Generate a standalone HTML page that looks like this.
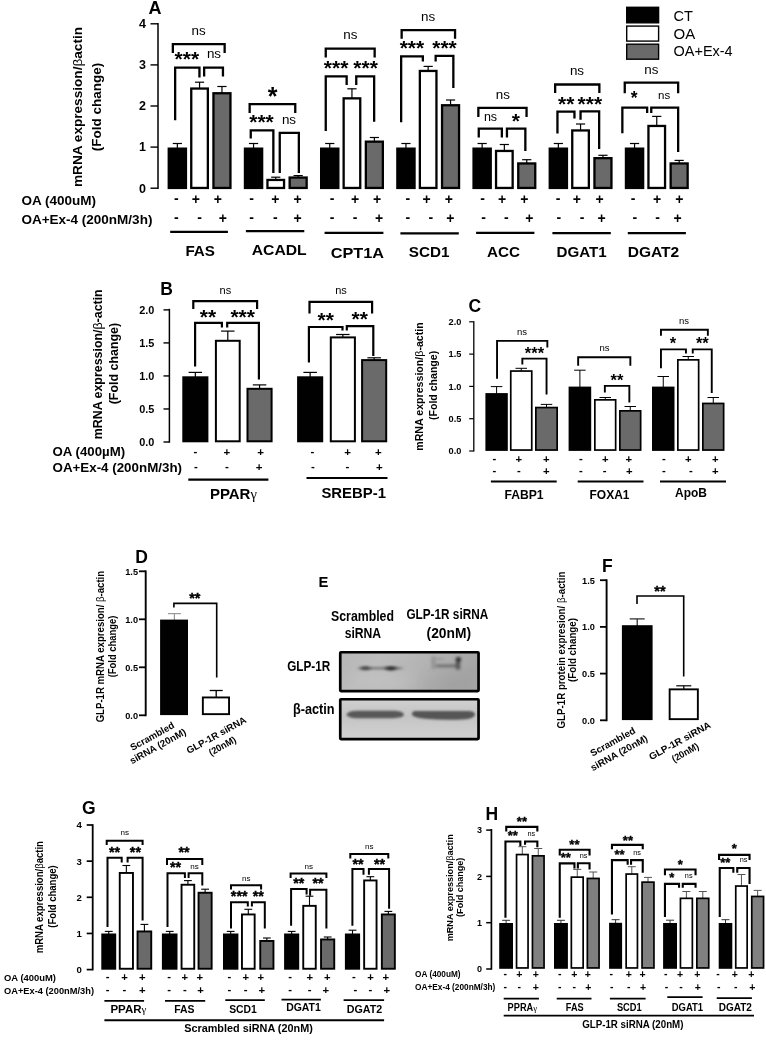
<!DOCTYPE html>
<html><head><meta charset="utf-8"><title>Figure</title>
<style>html,body{margin:0;padding:0;background:#fff}svg{display:block;font-family:"Liberation Sans",sans-serif;font-weight:bold}</style>
</head><body>
<svg width="766" height="1040" viewBox="0 0 766 1040" shape-rendering="geometricPrecision" style="will-change:transform;opacity:0.9999">
<rect width="766" height="1040" fill="#fff"/>
<text x="155" y="13.5" font-size="18" text-anchor="middle" fill="#000" >A</text>
<line x1="158" y1="22.9" x2="158" y2="188.9" stroke="#000" stroke-width="1.5" stroke-linecap="butt"/>
<line x1="150.5" y1="188.2" x2="158" y2="188.2" stroke="#000" stroke-width="1.4" stroke-linecap="butt"/>
<text x="146" y="192.5" font-size="12.5" text-anchor="end" fill="#000" >0</text>
<line x1="150.5" y1="147.1" x2="158" y2="147.1" stroke="#000" stroke-width="1.4" stroke-linecap="butt"/>
<text x="146" y="151.4" font-size="12.5" text-anchor="end" fill="#000" >1</text>
<line x1="150.5" y1="106" x2="158" y2="106" stroke="#000" stroke-width="1.4" stroke-linecap="butt"/>
<text x="146" y="110.3" font-size="12.5" text-anchor="end" fill="#000" >2</text>
<line x1="150.5" y1="64.9" x2="158" y2="64.9" stroke="#000" stroke-width="1.4" stroke-linecap="butt"/>
<text x="146" y="69.2" font-size="12.5" text-anchor="end" fill="#000" >3</text>
<line x1="150.5" y1="23.8" x2="158" y2="23.8" stroke="#000" stroke-width="1.4" stroke-linecap="butt"/>
<text x="146" y="28.1" font-size="12.5" text-anchor="end" fill="#000" >4</text>
<text font-size="13.5" text-anchor="middle" fill="#000" textLength="160" lengthAdjust="spacingAndGlyphs" transform="translate(81.5,107) rotate(-90)" >mRNA expression/<tspan font-weight="normal">β</tspan>actin</text>
<text font-size="13.5" text-anchor="middle" fill="#000" transform="translate(100.8,107) rotate(-90)" >(Fold change)</text>
<text x="21.4" y="204.6" font-size="13" text-anchor="start" fill="#000" textLength="74.6" lengthAdjust="spacingAndGlyphs" >OA (400uM)</text>
<text x="21.4" y="224" font-size="13" text-anchor="start" fill="#000" textLength="131" lengthAdjust="spacingAndGlyphs" >OA+Ex-4 (200nM/3h)</text>
<line x1="177.35" y1="143.5" x2="177.35" y2="148.5" stroke="#000" stroke-width="1.2" stroke-linecap="butt"/>
<line x1="172.75" y1="143.5" x2="181.95" y2="143.5" stroke="#000" stroke-width="1.2" stroke-linecap="butt"/>
<rect x="168.75" y="148.65" width="17.2" height="39.3" fill="#000" stroke="#000" stroke-width="2.3"/>
<text x="176.3" y="203.11" font-size="14" text-anchor="middle" fill="#000" >-</text>
<text x="176.3" y="222.21" font-size="14" text-anchor="middle" fill="#000" >-</text>
<line x1="199.55" y1="82.2" x2="199.55" y2="88.4" stroke="#000" stroke-width="1.2" stroke-linecap="butt"/>
<line x1="194.95" y1="82.2" x2="204.15" y2="82.2" stroke="#000" stroke-width="1.2" stroke-linecap="butt"/>
<rect x="191.25" y="88.55" width="16.6" height="99.4" fill="#fff" stroke="#000" stroke-width="2.3"/>
<text x="195.9" y="204.16" font-size="14" text-anchor="middle" fill="#000" >+</text>
<text x="199.7" y="222.21" font-size="14" text-anchor="middle" fill="#000" >-</text>
<line x1="221.95" y1="86.5" x2="221.95" y2="93.1" stroke="#000" stroke-width="1.2" stroke-linecap="butt"/>
<line x1="217.35" y1="86.5" x2="226.55" y2="86.5" stroke="#000" stroke-width="1.2" stroke-linecap="butt"/>
<rect x="213.45" y="93.25" width="17" height="94.7" fill="#6a6a6a" stroke="#000" stroke-width="2.3"/>
<text x="217.8" y="204.16" font-size="14" text-anchor="middle" fill="#000" >+</text>
<text x="222.8" y="223.26" font-size="14" text-anchor="middle" fill="#000" >+</text>
<line x1="170.2" y1="231.8" x2="227.9" y2="231.8" stroke="#000" stroke-width="2.2" stroke-linecap="butt"/>
<text x="200.2" y="256.2" font-size="14.8" text-anchor="middle" fill="#000" textLength="29.5" lengthAdjust="spacingAndGlyphs" >FAS</text>
<line x1="253.55" y1="143.5" x2="253.55" y2="148.5" stroke="#000" stroke-width="1.2" stroke-linecap="butt"/>
<line x1="248.95" y1="143.5" x2="258.15" y2="143.5" stroke="#000" stroke-width="1.2" stroke-linecap="butt"/>
<rect x="244.95" y="148.65" width="17.2" height="39.3" fill="#000" stroke="#000" stroke-width="2.3"/>
<text x="251.6" y="203.11" font-size="14" text-anchor="middle" fill="#000" >-</text>
<text x="251.6" y="222.21" font-size="14" text-anchor="middle" fill="#000" >-</text>
<line x1="275.75" y1="177.2" x2="275.75" y2="179.8" stroke="#000" stroke-width="1.2" stroke-linecap="butt"/>
<line x1="271.15" y1="177.2" x2="280.35" y2="177.2" stroke="#000" stroke-width="1.2" stroke-linecap="butt"/>
<rect x="267.45" y="179.95" width="16.6" height="8" fill="#fff" stroke="#000" stroke-width="2.3"/>
<text x="275.4" y="204.16" font-size="14" text-anchor="middle" fill="#000" >+</text>
<text x="275.4" y="222.21" font-size="14" text-anchor="middle" fill="#000" >-</text>
<line x1="298.15" y1="175.6" x2="298.15" y2="177.4" stroke="#000" stroke-width="1.2" stroke-linecap="butt"/>
<line x1="293.55" y1="175.6" x2="302.75" y2="175.6" stroke="#000" stroke-width="1.2" stroke-linecap="butt"/>
<rect x="289.65" y="177.55" width="17" height="10.4" fill="#6a6a6a" stroke="#000" stroke-width="2.3"/>
<text x="297.5" y="204.16" font-size="14" text-anchor="middle" fill="#000" >+</text>
<text x="297.5" y="223.26" font-size="14" text-anchor="middle" fill="#000" >+</text>
<line x1="245.9" y1="231.2" x2="304.3" y2="231.2" stroke="#000" stroke-width="2.2" stroke-linecap="butt"/>
<text x="279.2" y="254.6" font-size="14.8" text-anchor="middle" fill="#000" textLength="55" lengthAdjust="spacingAndGlyphs" >ACADL</text>
<line x1="329.75" y1="143.5" x2="329.75" y2="148.5" stroke="#000" stroke-width="1.2" stroke-linecap="butt"/>
<line x1="325.15" y1="143.5" x2="334.35" y2="143.5" stroke="#000" stroke-width="1.2" stroke-linecap="butt"/>
<rect x="321.15" y="148.65" width="17.2" height="39.3" fill="#000" stroke="#000" stroke-width="2.3"/>
<text x="332.1" y="203.11" font-size="14" text-anchor="middle" fill="#000" >-</text>
<text x="332.1" y="222.21" font-size="14" text-anchor="middle" fill="#000" >-</text>
<line x1="351.95" y1="88.8" x2="351.95" y2="98.2" stroke="#000" stroke-width="1.2" stroke-linecap="butt"/>
<line x1="347.35" y1="88.8" x2="356.55" y2="88.8" stroke="#000" stroke-width="1.2" stroke-linecap="butt"/>
<rect x="343.65" y="98.35" width="16.6" height="89.6" fill="#fff" stroke="#000" stroke-width="2.3"/>
<text x="355.2" y="204.16" font-size="14" text-anchor="middle" fill="#000" >+</text>
<text x="355.2" y="222.21" font-size="14" text-anchor="middle" fill="#000" >-</text>
<line x1="374.35" y1="137.5" x2="374.35" y2="141.5" stroke="#000" stroke-width="1.2" stroke-linecap="butt"/>
<line x1="369.75" y1="137.5" x2="378.95" y2="137.5" stroke="#000" stroke-width="1.2" stroke-linecap="butt"/>
<rect x="365.85" y="141.65" width="17" height="46.3" fill="#6a6a6a" stroke="#000" stroke-width="2.3"/>
<text x="377.2" y="204.16" font-size="14" text-anchor="middle" fill="#000" >+</text>
<text x="379" y="223.26" font-size="14" text-anchor="middle" fill="#000" >+</text>
<line x1="324.6" y1="232.8" x2="383.4" y2="232.8" stroke="#000" stroke-width="2.2" stroke-linecap="butt"/>
<text x="357.3" y="257.8" font-size="14.8" text-anchor="middle" fill="#000" textLength="53.3" lengthAdjust="spacingAndGlyphs" >CPT1A</text>
<line x1="405.95" y1="143.5" x2="405.95" y2="148.5" stroke="#000" stroke-width="1.2" stroke-linecap="butt"/>
<line x1="401.35" y1="143.5" x2="410.55" y2="143.5" stroke="#000" stroke-width="1.2" stroke-linecap="butt"/>
<rect x="397.35" y="148.65" width="17.2" height="39.3" fill="#000" stroke="#000" stroke-width="2.3"/>
<text x="407.8" y="203.11" font-size="14" text-anchor="middle" fill="#000" >-</text>
<text x="407.8" y="222.21" font-size="14" text-anchor="middle" fill="#000" >-</text>
<line x1="428.15" y1="66.4" x2="428.15" y2="70.8" stroke="#000" stroke-width="1.2" stroke-linecap="butt"/>
<line x1="423.55" y1="66.4" x2="432.75" y2="66.4" stroke="#000" stroke-width="1.2" stroke-linecap="butt"/>
<rect x="419.85" y="70.95" width="16.6" height="117" fill="#fff" stroke="#000" stroke-width="2.3"/>
<text x="426.5" y="204.16" font-size="14" text-anchor="middle" fill="#000" >+</text>
<text x="430.9" y="222.21" font-size="14" text-anchor="middle" fill="#000" >-</text>
<line x1="450.55" y1="100" x2="450.55" y2="105.1" stroke="#000" stroke-width="1.2" stroke-linecap="butt"/>
<line x1="445.95" y1="100" x2="455.15" y2="100" stroke="#000" stroke-width="1.2" stroke-linecap="butt"/>
<rect x="442.05" y="105.25" width="17" height="82.7" fill="#6a6a6a" stroke="#000" stroke-width="2.3"/>
<text x="448.9" y="204.16" font-size="14" text-anchor="middle" fill="#000" >+</text>
<text x="450.3" y="223.26" font-size="14" text-anchor="middle" fill="#000" >+</text>
<line x1="400.4" y1="233.4" x2="458.8" y2="233.4" stroke="#000" stroke-width="2.2" stroke-linecap="butt"/>
<text x="429.2" y="257.2" font-size="14.8" text-anchor="middle" fill="#000" textLength="40.7" lengthAdjust="spacingAndGlyphs" >SCD1</text>
<line x1="482.15" y1="143.5" x2="482.15" y2="148.5" stroke="#000" stroke-width="1.2" stroke-linecap="butt"/>
<line x1="477.55" y1="143.5" x2="486.75" y2="143.5" stroke="#000" stroke-width="1.2" stroke-linecap="butt"/>
<rect x="473.55" y="148.65" width="17.2" height="39.3" fill="#000" stroke="#000" stroke-width="2.3"/>
<text x="482.5" y="203.11" font-size="14" text-anchor="middle" fill="#000" >-</text>
<text x="483.5" y="222.21" font-size="14" text-anchor="middle" fill="#000" >-</text>
<line x1="504.35" y1="144.5" x2="504.35" y2="150.8" stroke="#000" stroke-width="1.2" stroke-linecap="butt"/>
<line x1="499.75" y1="144.5" x2="508.95" y2="144.5" stroke="#000" stroke-width="1.2" stroke-linecap="butt"/>
<rect x="496.05" y="150.95" width="16.6" height="37" fill="#fff" stroke="#000" stroke-width="2.3"/>
<text x="502.2" y="204.16" font-size="14" text-anchor="middle" fill="#000" >+</text>
<text x="506.3" y="222.21" font-size="14" text-anchor="middle" fill="#000" >-</text>
<line x1="526.75" y1="159.7" x2="526.75" y2="163.3" stroke="#000" stroke-width="1.2" stroke-linecap="butt"/>
<line x1="522.15" y1="159.7" x2="531.35" y2="159.7" stroke="#000" stroke-width="1.2" stroke-linecap="butt"/>
<rect x="518.25" y="163.45" width="17" height="24.5" fill="#6a6a6a" stroke="#000" stroke-width="2.3"/>
<text x="524.3" y="204.16" font-size="14" text-anchor="middle" fill="#000" >+</text>
<text x="529.4" y="223.26" font-size="14" text-anchor="middle" fill="#000" >+</text>
<line x1="476.1" y1="232.8" x2="534.4" y2="232.8" stroke="#000" stroke-width="2.2" stroke-linecap="butt"/>
<text x="503.4" y="257.2" font-size="14.8" text-anchor="middle" fill="#000" textLength="33" lengthAdjust="spacingAndGlyphs" >ACC</text>
<line x1="558.35" y1="143.5" x2="558.35" y2="148.5" stroke="#000" stroke-width="1.2" stroke-linecap="butt"/>
<line x1="553.75" y1="143.5" x2="562.95" y2="143.5" stroke="#000" stroke-width="1.2" stroke-linecap="butt"/>
<rect x="549.75" y="148.65" width="17.2" height="39.3" fill="#000" stroke="#000" stroke-width="2.3"/>
<text x="558.2" y="203.11" font-size="14" text-anchor="middle" fill="#000" >-</text>
<text x="558.9" y="222.21" font-size="14" text-anchor="middle" fill="#000" >-</text>
<line x1="580.55" y1="124" x2="580.55" y2="130.3" stroke="#000" stroke-width="1.2" stroke-linecap="butt"/>
<line x1="575.95" y1="124" x2="585.15" y2="124" stroke="#000" stroke-width="1.2" stroke-linecap="butt"/>
<rect x="572.25" y="130.45" width="16.6" height="57.5" fill="#fff" stroke="#000" stroke-width="2.3"/>
<text x="576.9" y="204.16" font-size="14" text-anchor="middle" fill="#000" >+</text>
<text x="582" y="222.21" font-size="14" text-anchor="middle" fill="#000" >-</text>
<line x1="602.95" y1="155.3" x2="602.95" y2="158" stroke="#000" stroke-width="1.2" stroke-linecap="butt"/>
<line x1="598.35" y1="155.3" x2="607.55" y2="155.3" stroke="#000" stroke-width="1.2" stroke-linecap="butt"/>
<rect x="594.45" y="158.15" width="17" height="29.8" fill="#6a6a6a" stroke="#000" stroke-width="2.3"/>
<text x="599.6" y="204.16" font-size="14" text-anchor="middle" fill="#000" >+</text>
<text x="601.7" y="223.26" font-size="14" text-anchor="middle" fill="#000" >+</text>
<line x1="552.4" y1="233.1" x2="610.8" y2="233.1" stroke="#000" stroke-width="2.2" stroke-linecap="butt"/>
<text x="581.6" y="257.2" font-size="14.8" text-anchor="middle" fill="#000" textLength="50.2" lengthAdjust="spacingAndGlyphs" >DGAT1</text>
<line x1="634.55" y1="143.5" x2="634.55" y2="148.5" stroke="#000" stroke-width="1.2" stroke-linecap="butt"/>
<line x1="629.95" y1="143.5" x2="639.15" y2="143.5" stroke="#000" stroke-width="1.2" stroke-linecap="butt"/>
<rect x="625.95" y="148.65" width="17.2" height="39.3" fill="#000" stroke="#000" stroke-width="2.3"/>
<text x="633" y="203.11" font-size="14" text-anchor="middle" fill="#000" >-</text>
<text x="634.9" y="222.21" font-size="14" text-anchor="middle" fill="#000" >-</text>
<line x1="656.75" y1="116.4" x2="656.75" y2="125.8" stroke="#000" stroke-width="1.2" stroke-linecap="butt"/>
<line x1="652.15" y1="116.4" x2="661.35" y2="116.4" stroke="#000" stroke-width="1.2" stroke-linecap="butt"/>
<rect x="648.45" y="125.95" width="16.6" height="62" fill="#fff" stroke="#000" stroke-width="2.3"/>
<text x="657.2" y="204.16" font-size="14" text-anchor="middle" fill="#000" >+</text>
<text x="657.7" y="222.21" font-size="14" text-anchor="middle" fill="#000" >-</text>
<line x1="679.15" y1="160.4" x2="679.15" y2="163.3" stroke="#000" stroke-width="1.2" stroke-linecap="butt"/>
<line x1="674.55" y1="160.4" x2="683.75" y2="160.4" stroke="#000" stroke-width="1.2" stroke-linecap="butt"/>
<rect x="670.65" y="163.45" width="17" height="24.5" fill="#6a6a6a" stroke="#000" stroke-width="2.3"/>
<text x="679.3" y="204.16" font-size="14" text-anchor="middle" fill="#000" >+</text>
<text x="677.6" y="223.26" font-size="14" text-anchor="middle" fill="#000" >+</text>
<line x1="627.8" y1="233.2" x2="685.9" y2="233.2" stroke="#000" stroke-width="2.2" stroke-linecap="butt"/>
<text x="653.5" y="257" font-size="14.8" text-anchor="middle" fill="#000" textLength="51.5" lengthAdjust="spacingAndGlyphs" >DGAT2</text>
<text x="198.7" y="35.2" font-size="13.4" text-anchor="middle" fill="#000" font-weight="normal" >ns</text>
<path d="M172.85 52.9V44.2H224.65V52.9" fill="none" stroke="#000" stroke-width="2.3" stroke-linejoin="miter"/>
<text x="186.8" y="66.49" font-size="21" text-anchor="middle" fill="#000" >***</text>
<text x="214" y="58" font-size="13.4" text-anchor="middle" fill="#000" font-weight="normal" >ns</text>
<path d="M175.15 120.3V67.7H199.45V77.5" fill="none" stroke="#000" stroke-width="2.3" stroke-linejoin="miter"/>
<path d="M204.15 76.4V67.7H222.95V76.4" fill="none" stroke="#000" stroke-width="2.3" stroke-linejoin="miter"/>
<text x="272.7" y="105.05" font-size="25" text-anchor="middle" fill="#000" >*</text>
<path d="M249.65 113V104.2H295.25V113" fill="none" stroke="#000" stroke-width="2.3" stroke-linejoin="miter"/>
<text x="261.5" y="129.09" font-size="21" text-anchor="middle" fill="#000" >***</text>
<text x="289" y="123.6" font-size="13.4" text-anchor="middle" fill="#000" font-weight="normal" >ns</text>
<path d="M250.75 138.5V130.4H273.35V172.9" fill="none" stroke="#000" stroke-width="2.3" stroke-linejoin="miter"/>
<path d="M279.75 172.9V132.8H298.85V172.9" fill="none" stroke="#000" stroke-width="2.3" stroke-linejoin="miter"/>
<text x="350.4" y="38.8" font-size="13.4" text-anchor="middle" fill="#000" font-weight="normal" >ns</text>
<path d="M325.75 57.6V48.6H374.65V57.6" fill="none" stroke="#000" stroke-width="2.3" stroke-linejoin="miter"/>
<text x="336.1" y="75.49" font-size="21" text-anchor="middle" fill="#000" >***</text>
<text x="365.6" y="75.49" font-size="21" text-anchor="middle" fill="#000" >***</text>
<path d="M325.75 131V76.4H346.65V85" fill="none" stroke="#000" stroke-width="2.3" stroke-linejoin="miter"/>
<path d="M356.25 85V76.4H374.15V121.7" fill="none" stroke="#000" stroke-width="2.3" stroke-linejoin="miter"/>
<text x="428.2" y="21.1" font-size="13.4" text-anchor="middle" fill="#000" font-weight="normal" >ns</text>
<path d="M401.65 38.8V30.1H455.05V38.8" fill="none" stroke="#000" stroke-width="2.3" stroke-linejoin="miter"/>
<text x="411.9" y="55.09" font-size="21" text-anchor="middle" fill="#000" >***</text>
<text x="444.5" y="55.09" font-size="21" text-anchor="middle" fill="#000" >***</text>
<path d="M401.15 122.2V56.4H422.85V61.6" fill="none" stroke="#000" stroke-width="2.3" stroke-linejoin="miter"/>
<path d="M435.65 61.6V55.8H453.35V88.1" fill="none" stroke="#000" stroke-width="2.3" stroke-linejoin="miter"/>
<text x="502.8" y="99.3" font-size="13.4" text-anchor="middle" fill="#000" font-weight="normal" >ns</text>
<path d="M478.35 117V107.8H526.55V117" fill="none" stroke="#000" stroke-width="2.3" stroke-linejoin="miter"/>
<text x="490.5" y="121.2" font-size="12.5" text-anchor="middle" fill="#000" font-weight="normal" >ns</text>
<text x="515.9" y="127.89" font-size="21" text-anchor="middle" fill="#000" >*</text>
<path d="M478.75 137.5V128.7H501.85V137.5" fill="none" stroke="#000" stroke-width="2.3" stroke-linejoin="miter"/>
<path d="M506.95 137.5V128.7H525.35V151" fill="none" stroke="#000" stroke-width="2.3" stroke-linejoin="miter"/>
<text x="577" y="74.7" font-size="13.4" text-anchor="middle" fill="#000" font-weight="normal" >ns</text>
<path d="M555.15 93V84.5H599.35V93" fill="none" stroke="#000" stroke-width="2.3" stroke-linejoin="miter"/>
<text x="566.3" y="110.99" font-size="21" text-anchor="middle" fill="#000" >**</text>
<text x="589.8" y="110.99" font-size="21" text-anchor="middle" fill="#000" >***</text>
<path d="M557.45 133.4V111.6H574.45V118.5" fill="none" stroke="#000" stroke-width="2.3" stroke-linejoin="miter"/>
<path d="M580.55 119.8V111.4H599.15V148.9" fill="none" stroke="#000" stroke-width="2.3" stroke-linejoin="miter"/>
<text x="651.3" y="73.5" font-size="13.4" text-anchor="middle" fill="#000" font-weight="normal" >ns</text>
<path d="M624.75 93.3V82.7H678.15V93.3" fill="none" stroke="#000" stroke-width="2.3" stroke-linejoin="miter"/>
<text x="634.2" y="104.17" font-size="17.5" text-anchor="middle" fill="#000" >*</text>
<text x="664.2" y="98.7" font-size="11.5" text-anchor="middle" fill="#000" font-weight="normal" >ns</text>
<path d="M622.35 133.2V107.6H647.15V113" fill="none" stroke="#000" stroke-width="2.3" stroke-linejoin="miter"/>
<path d="M651.25 113V107.6H678.15V152" fill="none" stroke="#000" stroke-width="2.3" stroke-linejoin="miter"/>
<rect x="626.7" y="7.3" width="31.9" height="15.5" fill="#000" stroke="#000" stroke-width="1.4"/>
<rect x="626.7" y="26.1" width="31.9" height="15" fill="#fff" stroke="#000" stroke-width="1.4"/>
<rect x="626.7" y="44.2" width="31.9" height="15" fill="#6a6a6a" stroke="#000" stroke-width="1.4"/>
<text x="673.6" y="21" font-size="15" text-anchor="start" fill="#000" font-weight="normal" textLength="19.4" lengthAdjust="spacingAndGlyphs" >CT</text>
<text x="673.6" y="38.5" font-size="15" text-anchor="start" fill="#000" font-weight="normal" >OA</text>
<text x="673.6" y="56" font-size="15" text-anchor="start" fill="#000" font-weight="normal" textLength="59" lengthAdjust="spacingAndGlyphs" >OA+Ex-4</text>
<text x="166.6" y="295.4" font-size="17.5" text-anchor="middle" fill="#000" >B</text>
<line x1="169.4" y1="308.8" x2="169.4" y2="442.7" stroke="#000" stroke-width="1.5" stroke-linecap="butt"/>
<line x1="163.5" y1="442" x2="169.4" y2="442" stroke="#000" stroke-width="1.4" stroke-linecap="butt"/>
<text x="154.4" y="446" font-size="10.9" text-anchor="end" fill="#000" >0.0</text>
<line x1="163.5" y1="408.97" x2="169.4" y2="408.97" stroke="#000" stroke-width="1.4" stroke-linecap="butt"/>
<text x="154.4" y="412.97" font-size="10.9" text-anchor="end" fill="#000" >0.5</text>
<line x1="163.5" y1="375.94" x2="169.4" y2="375.94" stroke="#000" stroke-width="1.4" stroke-linecap="butt"/>
<text x="154.4" y="379.94" font-size="10.9" text-anchor="end" fill="#000" >1.0</text>
<line x1="163.5" y1="342.91" x2="169.4" y2="342.91" stroke="#000" stroke-width="1.4" stroke-linecap="butt"/>
<text x="154.4" y="346.91" font-size="10.9" text-anchor="end" fill="#000" >1.5</text>
<line x1="163.5" y1="309.88" x2="169.4" y2="309.88" stroke="#000" stroke-width="1.4" stroke-linecap="butt"/>
<text x="154.4" y="313.88" font-size="10.9" text-anchor="end" fill="#000" >2.0</text>
<text font-size="12.6" text-anchor="middle" fill="#000" textLength="150" lengthAdjust="spacingAndGlyphs" transform="translate(101.6,364.3) rotate(-90)" >mRNA expression/<tspan font-weight="normal">β</tspan>-actin</text>
<text font-size="12.6" text-anchor="middle" fill="#000" textLength="81.5" lengthAdjust="spacingAndGlyphs" transform="translate(118.4,363.6) rotate(-90)" >(Fold change)</text>
<text x="52.5" y="455.5" font-size="12.5" text-anchor="start" fill="#000" textLength="72.6" lengthAdjust="spacingAndGlyphs" >OA (400µM)</text>
<text x="52.5" y="471.5" font-size="12.5" text-anchor="start" fill="#000" textLength="129.5" lengthAdjust="spacingAndGlyphs" >OA+Ex-4 (200nM/3h)</text>
<line x1="195.35" y1="372.4" x2="195.35" y2="377.3" stroke="#000" stroke-width="1.2" stroke-linecap="butt"/>
<line x1="188.6" y1="372.4" x2="202.1" y2="372.4" stroke="#000" stroke-width="1.2" stroke-linecap="butt"/>
<rect x="183.3" y="377.3" width="24.1" height="64" fill="#000" stroke="#000" stroke-width="2"/>
<line x1="227.8" y1="331.1" x2="227.8" y2="340.8" stroke="#000" stroke-width="1.2" stroke-linecap="butt"/>
<line x1="221.05" y1="331.1" x2="234.55" y2="331.1" stroke="#000" stroke-width="1.2" stroke-linecap="butt"/>
<rect x="215.9" y="340.8" width="23.8" height="100.5" fill="#fff" stroke="#000" stroke-width="2"/>
<line x1="259.55" y1="384.9" x2="259.55" y2="388.8" stroke="#000" stroke-width="1.2" stroke-linecap="butt"/>
<line x1="252.8" y1="384.9" x2="266.3" y2="384.9" stroke="#000" stroke-width="1.2" stroke-linecap="butt"/>
<rect x="247.5" y="388.8" width="24.1" height="52.5" fill="#6a6a6a" stroke="#000" stroke-width="2"/>
<line x1="310.15" y1="372.4" x2="310.15" y2="377.3" stroke="#000" stroke-width="1.2" stroke-linecap="butt"/>
<line x1="303.4" y1="372.4" x2="316.9" y2="372.4" stroke="#000" stroke-width="1.2" stroke-linecap="butt"/>
<rect x="298.1" y="377.3" width="24.1" height="64" fill="#000" stroke="#000" stroke-width="2"/>
<line x1="342.85" y1="334.5" x2="342.85" y2="337.4" stroke="#000" stroke-width="1.2" stroke-linecap="butt"/>
<line x1="336.1" y1="334.5" x2="349.6" y2="334.5" stroke="#000" stroke-width="1.2" stroke-linecap="butt"/>
<rect x="330.8" y="337.4" width="24.1" height="103.9" fill="#fff" stroke="#000" stroke-width="2"/>
<line x1="374.15" y1="357.8" x2="374.15" y2="360.1" stroke="#000" stroke-width="1.2" stroke-linecap="butt"/>
<line x1="367.4" y1="357.8" x2="380.9" y2="357.8" stroke="#000" stroke-width="1.2" stroke-linecap="butt"/>
<rect x="362.1" y="360.1" width="24.1" height="81.2" fill="#6a6a6a" stroke="#000" stroke-width="2"/>
<text x="195.5" y="454.75" font-size="11.5" text-anchor="middle" fill="#000" >-</text>
<text x="226.8" y="455.61" font-size="11.5" text-anchor="middle" fill="#000" >+</text>
<text x="260.5" y="455.61" font-size="11.5" text-anchor="middle" fill="#000" >+</text>
<text x="312.3" y="454.75" font-size="11.5" text-anchor="middle" fill="#000" >-</text>
<text x="347.5" y="455.61" font-size="11.5" text-anchor="middle" fill="#000" >+</text>
<text x="378.3" y="455.61" font-size="11.5" text-anchor="middle" fill="#000" >+</text>
<text x="195.9" y="470.25" font-size="11.5" text-anchor="middle" fill="#000" >-</text>
<text x="226.8" y="470.25" font-size="11.5" text-anchor="middle" fill="#000" >-</text>
<text x="259" y="471.11" font-size="11.5" text-anchor="middle" fill="#000" >+</text>
<text x="312.8" y="470.25" font-size="11.5" text-anchor="middle" fill="#000" >-</text>
<text x="347.5" y="470.25" font-size="11.5" text-anchor="middle" fill="#000" >-</text>
<text x="379.4" y="471.11" font-size="11.5" text-anchor="middle" fill="#000" >+</text>
<line x1="188.3" y1="479.6" x2="268.4" y2="479.6" stroke="#000" stroke-width="2.2" stroke-linecap="butt"/>
<line x1="306.5" y1="478" x2="387.5" y2="478" stroke="#000" stroke-width="2.2" stroke-linecap="butt"/>
<text x="209.9" y="499.2" font-size="15" text-anchor="start" fill="#000" >PPAR<tspan font-family="Liberation Serif" font-weight="normal" font-size="14.5">γ</tspan></text>
<text x="353.7" y="497.9" font-size="15" text-anchor="middle" fill="#000" textLength="64.5" lengthAdjust="spacingAndGlyphs" >SREBP-1</text>
<text x="225.4" y="293.8" font-size="11" text-anchor="middle" fill="#000" font-weight="normal" >ns</text>
<path d="M193.3 309V301.1H257.1V309" fill="none" stroke="#000" stroke-width="2.2" stroke-linejoin="miter"/>
<text x="208" y="323.69" font-size="21" text-anchor="middle" fill="#000" >**</text>
<text x="242.7" y="323.69" font-size="21" text-anchor="middle" fill="#000" >***</text>
<path d="M195.1 366.4V322.8H221.9V327.5" fill="none" stroke="#000" stroke-width="2.2" stroke-linejoin="miter"/>
<path d="M227.2 327.5V322.8H258.9V379.4" fill="none" stroke="#000" stroke-width="2.2" stroke-linejoin="miter"/>
<text x="341" y="294.4" font-size="11" text-anchor="middle" fill="#000" font-weight="normal" >ns</text>
<path d="M309.5 313.6V301.9H372.1V313.6" fill="none" stroke="#000" stroke-width="2.2" stroke-linejoin="miter"/>
<text x="325.8" y="326.89" font-size="21" text-anchor="middle" fill="#000" >**</text>
<text x="359.8" y="326.29" font-size="21" text-anchor="middle" fill="#000" >**</text>
<path d="M308.9 362.5V327H342.5V330.5" fill="none" stroke="#000" stroke-width="2.2" stroke-linejoin="miter"/>
<path d="M346.8 330.5V326.2H373.3V356" fill="none" stroke="#000" stroke-width="2.2" stroke-linejoin="miter"/>
<text x="474.7" y="312.2" font-size="17.5" text-anchor="middle" fill="#000" >C</text>
<line x1="473.8" y1="321.3" x2="473.8" y2="451.6" stroke="#000" stroke-width="1.3" stroke-linecap="butt"/>
<line x1="469.2" y1="451" x2="473.8" y2="451" stroke="#000" stroke-width="1.2" stroke-linecap="butt"/>
<text x="461.4" y="454.3" font-size="9.2" text-anchor="end" fill="#000" >0.0</text>
<line x1="469.2" y1="418.7" x2="473.8" y2="418.7" stroke="#000" stroke-width="1.2" stroke-linecap="butt"/>
<text x="461.4" y="422" font-size="9.2" text-anchor="end" fill="#000" >0.5</text>
<line x1="469.2" y1="386.4" x2="473.8" y2="386.4" stroke="#000" stroke-width="1.2" stroke-linecap="butt"/>
<text x="461.4" y="389.7" font-size="9.2" text-anchor="end" fill="#000" >1.0</text>
<line x1="469.2" y1="354.1" x2="473.8" y2="354.1" stroke="#000" stroke-width="1.2" stroke-linecap="butt"/>
<text x="461.4" y="357.4" font-size="9.2" text-anchor="end" fill="#000" >1.5</text>
<line x1="469.2" y1="321.8" x2="473.8" y2="321.8" stroke="#000" stroke-width="1.2" stroke-linecap="butt"/>
<text x="461.4" y="325.1" font-size="9.2" text-anchor="end" fill="#000" >2.0</text>
<text font-size="10.9" text-anchor="middle" fill="#000" textLength="128.5" lengthAdjust="spacingAndGlyphs" transform="translate(423,386.5) rotate(-90)" >mRNA expression/<tspan font-weight="normal">β</tspan>-actin</text>
<text font-size="10.9" text-anchor="middle" fill="#000" textLength="69.2" lengthAdjust="spacingAndGlyphs" transform="translate(436.6,385.4) rotate(-90)" >(Fold change)</text>
<line x1="496.6" y1="386.6" x2="496.6" y2="394.1" stroke="#000" stroke-width="1" stroke-linecap="butt"/>
<line x1="490.85" y1="386.6" x2="502.35" y2="386.6" stroke="#000" stroke-width="1" stroke-linecap="butt"/>
<rect x="486.25" y="393.95" width="20.7" height="56.1" fill="#000" stroke="#000" stroke-width="1.7"/>
<line x1="521.25" y1="368.3" x2="521.25" y2="371.2" stroke="#000" stroke-width="1" stroke-linecap="butt"/>
<line x1="515.5" y1="368.3" x2="527" y2="368.3" stroke="#000" stroke-width="1" stroke-linecap="butt"/>
<rect x="510.75" y="371.05" width="21" height="79" fill="#fff" stroke="#000" stroke-width="1.7"/>
<line x1="546.5" y1="404.4" x2="546.5" y2="407.7" stroke="#000" stroke-width="1" stroke-linecap="butt"/>
<line x1="540.75" y1="404.4" x2="552.25" y2="404.4" stroke="#000" stroke-width="1" stroke-linecap="butt"/>
<rect x="535.85" y="407.55" width="21.3" height="42.5" fill="#6a6a6a" stroke="#000" stroke-width="1.7"/>
<line x1="579.9" y1="370.2" x2="579.9" y2="387.6" stroke="#000" stroke-width="1" stroke-linecap="butt"/>
<line x1="574.15" y1="370.2" x2="585.65" y2="370.2" stroke="#000" stroke-width="1" stroke-linecap="butt"/>
<rect x="569.45" y="387.45" width="20.9" height="62.6" fill="#000" stroke="#000" stroke-width="1.7"/>
<line x1="605.25" y1="397.5" x2="605.25" y2="400" stroke="#000" stroke-width="1" stroke-linecap="butt"/>
<line x1="599.5" y1="397.5" x2="611" y2="397.5" stroke="#000" stroke-width="1" stroke-linecap="butt"/>
<rect x="594.85" y="399.85" width="20.8" height="50.2" fill="#fff" stroke="#000" stroke-width="1.7"/>
<line x1="630.25" y1="406.5" x2="630.25" y2="411" stroke="#000" stroke-width="1" stroke-linecap="butt"/>
<line x1="624.5" y1="406.5" x2="636" y2="406.5" stroke="#000" stroke-width="1" stroke-linecap="butt"/>
<rect x="619.85" y="410.85" width="20.8" height="39.2" fill="#6a6a6a" stroke="#000" stroke-width="1.7"/>
<line x1="663.25" y1="376.5" x2="663.25" y2="387.6" stroke="#000" stroke-width="1" stroke-linecap="butt"/>
<line x1="657.5" y1="376.5" x2="669" y2="376.5" stroke="#000" stroke-width="1" stroke-linecap="butt"/>
<rect x="652.85" y="387.45" width="20.8" height="62.6" fill="#000" stroke="#000" stroke-width="1.7"/>
<line x1="688.25" y1="356.5" x2="688.25" y2="360" stroke="#000" stroke-width="1" stroke-linecap="butt"/>
<line x1="682.5" y1="356.5" x2="694" y2="356.5" stroke="#000" stroke-width="1" stroke-linecap="butt"/>
<rect x="677.85" y="359.85" width="20.8" height="90.2" fill="#fff" stroke="#000" stroke-width="1.7"/>
<line x1="713.25" y1="397.5" x2="713.25" y2="403.6" stroke="#000" stroke-width="1" stroke-linecap="butt"/>
<line x1="707.5" y1="397.5" x2="719" y2="397.5" stroke="#000" stroke-width="1" stroke-linecap="butt"/>
<rect x="702.85" y="403.45" width="20.8" height="46.6" fill="#6a6a6a" stroke="#000" stroke-width="1.7"/>
<text x="494.5" y="461.69" font-size="11.3" text-anchor="middle" fill="#000" >-</text>
<text x="494.5" y="474.29" font-size="11.3" text-anchor="middle" fill="#000" >-</text>
<text x="518.8" y="462.54" font-size="11.3" text-anchor="middle" fill="#000" >+</text>
<text x="518.8" y="474.29" font-size="11.3" text-anchor="middle" fill="#000" >-</text>
<text x="546.2" y="462.54" font-size="11.3" text-anchor="middle" fill="#000" >+</text>
<text x="546.2" y="475.14" font-size="11.3" text-anchor="middle" fill="#000" >+</text>
<text x="580.9" y="461.69" font-size="11.3" text-anchor="middle" fill="#000" >-</text>
<text x="580.9" y="474.29" font-size="11.3" text-anchor="middle" fill="#000" >-</text>
<text x="605.2" y="462.54" font-size="11.3" text-anchor="middle" fill="#000" >+</text>
<text x="604.6" y="474.29" font-size="11.3" text-anchor="middle" fill="#000" >-</text>
<text x="628.7" y="462.54" font-size="11.3" text-anchor="middle" fill="#000" >+</text>
<text x="629.4" y="475.14" font-size="11.3" text-anchor="middle" fill="#000" >+</text>
<text x="663.9" y="461.69" font-size="11.3" text-anchor="middle" fill="#000" >-</text>
<text x="663.9" y="474.29" font-size="11.3" text-anchor="middle" fill="#000" >-</text>
<text x="688.2" y="462.54" font-size="11.3" text-anchor="middle" fill="#000" >+</text>
<text x="690.8" y="474.29" font-size="11.3" text-anchor="middle" fill="#000" >-</text>
<text x="715.3" y="462.54" font-size="11.3" text-anchor="middle" fill="#000" >+</text>
<text x="715.3" y="475.14" font-size="11.3" text-anchor="middle" fill="#000" >+</text>
<line x1="490.9" y1="481.5" x2="556.7" y2="481.5" stroke="#000" stroke-width="2" stroke-linecap="butt"/>
<line x1="577.7" y1="481.5" x2="643.5" y2="481.5" stroke="#000" stroke-width="2" stroke-linecap="butt"/>
<line x1="660" y1="481.5" x2="726" y2="481.5" stroke="#000" stroke-width="2" stroke-linecap="butt"/>
<text x="524" y="498.7" font-size="12.5" text-anchor="middle" fill="#000" textLength="39.2" lengthAdjust="spacingAndGlyphs" >FABP1</text>
<text x="609.5" y="498.7" font-size="12.5" text-anchor="middle" fill="#000" textLength="40" lengthAdjust="spacingAndGlyphs" >FOXA1</text>
<text x="691" y="497.4" font-size="12.5" text-anchor="middle" fill="#000" textLength="31.9" lengthAdjust="spacingAndGlyphs" >ApoB</text>
<text x="521.9" y="334.6" font-size="9.5" text-anchor="middle" fill="#000" font-weight="normal" >ns</text>
<path d="M497.05 378.8V340.9H547.35V347.4" fill="none" stroke="#000" stroke-width="1.9" stroke-linejoin="miter"/>
<text x="534.5" y="359.48" font-size="16.5" text-anchor="middle" fill="#000" >***</text>
<path d="M522.35 364.4V358.6H546.55V394.4" fill="none" stroke="#000" stroke-width="1.9" stroke-linejoin="miter"/>
<text x="604.5" y="350.6" font-size="9.5" text-anchor="middle" fill="#000" font-weight="normal" >ns</text>
<path d="M578.15 365.7V357.2H630.35V365.7" fill="none" stroke="#000" stroke-width="1.9" stroke-linejoin="miter"/>
<text x="617" y="386.08" font-size="16.5" text-anchor="middle" fill="#000" >**</text>
<path d="M604.85 392.5V385.9H629.35V402.5" fill="none" stroke="#000" stroke-width="1.9" stroke-linejoin="miter"/>
<text x="684" y="324" font-size="9.5" text-anchor="middle" fill="#000" font-weight="normal" >ns</text>
<path d="M660.95 335.8V329.8H707.85V335.8" fill="none" stroke="#000" stroke-width="1.9" stroke-linejoin="miter"/>
<text x="673" y="348.69" font-size="16.5" text-anchor="middle" fill="#000" >*</text>
<text x="702.3" y="348.69" font-size="16.5" text-anchor="middle" fill="#000" >**</text>
<path d="M660.95 368.3V349.4H685.95V353.5" fill="none" stroke="#000" stroke-width="1.9" stroke-linejoin="miter"/>
<path d="M692.75 353.5V349.4H711.75V393.1" fill="none" stroke="#000" stroke-width="1.9" stroke-linejoin="miter"/>
<text x="141.5" y="563" font-size="17.5" text-anchor="middle" fill="#000" >D</text>
<line x1="145.7" y1="570.4" x2="145.7" y2="716.2" stroke="#000" stroke-width="1.9" stroke-linecap="butt"/>
<line x1="139" y1="715.3" x2="145.7" y2="715.3" stroke="#000" stroke-width="1.8" stroke-linecap="butt"/>
<text x="138" y="718.6" font-size="9.2" text-anchor="end" fill="#000" >0.0</text>
<line x1="139" y1="667.3" x2="145.7" y2="667.3" stroke="#000" stroke-width="1.8" stroke-linecap="butt"/>
<text x="138" y="670.6" font-size="9.2" text-anchor="end" fill="#000" >0.5</text>
<line x1="139" y1="619.3" x2="145.7" y2="619.3" stroke="#000" stroke-width="1.8" stroke-linecap="butt"/>
<text x="138" y="622.6" font-size="9.2" text-anchor="end" fill="#000" >1.0</text>
<line x1="139" y1="571.3" x2="145.7" y2="571.3" stroke="#000" stroke-width="1.8" stroke-linecap="butt"/>
<text x="138" y="574.6" font-size="9.2" text-anchor="end" fill="#000" >1.5</text>
<text font-size="10.2" text-anchor="middle" fill="#000" textLength="151.5" lengthAdjust="spacingAndGlyphs" transform="translate(104.1,646.6) rotate(-90)" >GLP-1R mRNA expresion/ <tspan font-weight="normal">β</tspan>-actin</text>
<text font-size="10.2" text-anchor="middle" fill="#000" textLength="61.6" lengthAdjust="spacingAndGlyphs" transform="translate(116.1,646.5) rotate(-90)" >(Fold change)</text>
<line x1="174.4" y1="613.6" x2="174.4" y2="621" stroke="#999" stroke-width="1.2" stroke-linecap="butt"/>
<line x1="167.9" y1="613.6" x2="180.9" y2="613.6" stroke="#999" stroke-width="1.2" stroke-linecap="butt"/>
<rect x="161" y="620.5" width="26.1" height="93.7" fill="#000" stroke="#000" stroke-width="1.8"/>
<line x1="216.2" y1="690.5" x2="216.2" y2="697.5" stroke="#000" stroke-width="1.3" stroke-linecap="butt"/>
<line x1="209.7" y1="690.5" x2="222.7" y2="690.5" stroke="#000" stroke-width="1.3" stroke-linecap="butt"/>
<rect x="202.85" y="697.45" width="26.2" height="16.7" fill="#fff" stroke="#000" stroke-width="1.9"/>
<path d="M173.9 607.6V603.4H216.7V677.4" fill="none" stroke="#000" stroke-width="1.6" stroke-linejoin="miter"/>
<text x="194.8" y="603.21" font-size="14.5" text-anchor="middle" fill="#000" stroke="#000" stroke-width="0.35">**</text>
<text font-size="9.6" text-anchor="middle" fill="#000" textLength="48.8" lengthAdjust="spacingAndGlyphs" transform="translate(153.8,739.1) rotate(-29)" >Scrambled</text>
<text font-size="9.6" text-anchor="middle" fill="#000" textLength="62.6" lengthAdjust="spacingAndGlyphs" transform="translate(159.4,749) rotate(-29)" >siRNA (20nM)</text>
<text font-size="9.6" text-anchor="middle" fill="#000" textLength="66.5" lengthAdjust="spacingAndGlyphs" transform="translate(217.9,738) rotate(-29)" >GLP-1R siRNA</text>
<text font-size="9.6" text-anchor="middle" fill="#000" textLength="29.5" lengthAdjust="spacingAndGlyphs" transform="translate(223.9,748.8) rotate(-29)" >(20nM)</text>
<text x="607.3" y="572.4" font-size="17.5" text-anchor="middle" fill="#000" >F</text>
<line x1="606.6" y1="579.3" x2="606.6" y2="721.2" stroke="#000" stroke-width="1.9" stroke-linecap="butt"/>
<line x1="600" y1="720.3" x2="606.6" y2="720.3" stroke="#000" stroke-width="1.8" stroke-linecap="butt"/>
<text x="594.9" y="723.6" font-size="9.2" text-anchor="end" fill="#000" >0.0</text>
<line x1="600" y1="673.6" x2="606.6" y2="673.6" stroke="#000" stroke-width="1.8" stroke-linecap="butt"/>
<text x="594.9" y="676.9" font-size="9.2" text-anchor="end" fill="#000" >0.5</text>
<line x1="600" y1="626.9" x2="606.6" y2="626.9" stroke="#000" stroke-width="1.8" stroke-linecap="butt"/>
<text x="594.9" y="630.2" font-size="9.2" text-anchor="end" fill="#000" >1.0</text>
<line x1="600" y1="580.2" x2="606.6" y2="580.2" stroke="#000" stroke-width="1.8" stroke-linecap="butt"/>
<text x="594.9" y="583.5" font-size="9.2" text-anchor="end" fill="#000" >1.5</text>
<text font-size="10.2" text-anchor="middle" fill="#000" textLength="157" lengthAdjust="spacingAndGlyphs" transform="translate(564.9,650) rotate(-90)" >GLP-1R protein expresion/ <tspan font-weight="normal">β</tspan>-actin</text>
<text font-size="10.2" text-anchor="middle" fill="#000" textLength="64" lengthAdjust="spacingAndGlyphs" transform="translate(576.1,650) rotate(-90)" >(Fold change)</text>
<line x1="637.2" y1="618.9" x2="637.2" y2="626.5" stroke="#222" stroke-width="1.2" stroke-linecap="butt"/>
<line x1="629.7" y1="618.9" x2="644.7" y2="618.9" stroke="#222" stroke-width="1.2" stroke-linecap="butt"/>
<rect x="622.8" y="626.1" width="28.9" height="93.1" fill="#000" stroke="#000" stroke-width="1.8"/>
<line x1="683.8" y1="685.8" x2="683.8" y2="689.5" stroke="#000" stroke-width="1.2" stroke-linecap="butt"/>
<line x1="676.3" y1="685.8" x2="691.3" y2="685.8" stroke="#000" stroke-width="1.2" stroke-linecap="butt"/>
<rect x="669.65" y="689.35" width="28.2" height="29.8" fill="#fff" stroke="#000" stroke-width="1.9"/>
<path d="M637 604V596H683.7V676.4" fill="none" stroke="#000" stroke-width="1.6" stroke-linejoin="miter"/>
<text x="660" y="595.9" font-size="14.5" text-anchor="middle" fill="#000" stroke="#000" stroke-width="0.35">**</text>
<text font-size="9.6" text-anchor="middle" fill="#000" textLength="49.8" lengthAdjust="spacingAndGlyphs" transform="translate(614.3,744.6) rotate(-29)" >Scrambled</text>
<text font-size="9.6" text-anchor="middle" fill="#000" textLength="63.7" lengthAdjust="spacingAndGlyphs" transform="translate(620.6,755.8) rotate(-29)" >siRNA (20nM)</text>
<text font-size="9.6" text-anchor="middle" fill="#000" textLength="68.8" lengthAdjust="spacingAndGlyphs" transform="translate(681.4,743.6) rotate(-29)" >GLP-1R siRNA</text>
<text font-size="9.6" text-anchor="middle" fill="#000" textLength="29.2" lengthAdjust="spacingAndGlyphs" transform="translate(686.8,755.3) rotate(-29)" >(20nM)</text>
<defs><filter id="b1" x="-30%" y="-200%" width="160%" height="500%"><feGaussianBlur stdDeviation="2.2 1.2"/></filter><filter id="b2" x="-20%" y="-100%" width="140%" height="300%"><feGaussianBlur stdDeviation="1.3 1.0"/></filter><filter id="b3" x="-60%" y="-60%" width="220%" height="220%"><feGaussianBlur stdDeviation="1.5"/></filter><filter id="b4" x="-60%" y="-60%" width="220%" height="220%"><feGaussianBlur stdDeviation="9"/></filter><linearGradient id="g1" x1="0" x2="1" y1="0" y2="0.25"><stop offset="0" stop-color="#b6b6b6"/><stop offset="0.3" stop-color="#bdbdbd"/><stop offset="0.62" stop-color="#b4b4b4"/><stop offset="1" stop-color="#a5a5a5"/></linearGradient><linearGradient id="g2" x1="0" x2="0" y1="0" y2="1"><stop offset="0" stop-color="#d0d0d0"/><stop offset="0.42" stop-color="#c4c4c4"/><stop offset="0.7" stop-color="#cbcbcb"/><stop offset="1" stop-color="#d0d0d0"/></linearGradient><clipPath id="c1"><rect x="340" y="652" width="139" height="39.5"/></clipPath><clipPath id="c2"><rect x="340" y="699" width="139" height="40.3"/></clipPath></defs>
<text x="318.6" y="587.3" font-size="14.8" text-anchor="start" fill="#000" >E</text>
<text x="362.5" y="620.9" font-size="13.8" text-anchor="middle" fill="#000" textLength="62.9" lengthAdjust="spacingAndGlyphs" >Scrambled</text>
<text x="362.9" y="638.1" font-size="13.8" text-anchor="middle" fill="#000" textLength="36.5" lengthAdjust="spacingAndGlyphs" >siRNA</text>
<text x="447.3" y="618.9" font-size="13.8" text-anchor="middle" fill="#000" textLength="81.8" lengthAdjust="spacingAndGlyphs" >GLP-1R siRNA</text>
<text x="448.8" y="637.5" font-size="13.8" text-anchor="middle" fill="#000" textLength="44.5" lengthAdjust="spacingAndGlyphs" >(20nM)</text>
<text x="287.2" y="670.6" font-size="13.8" text-anchor="start" fill="#000" textLength="43.1" lengthAdjust="spacingAndGlyphs" >GLP-1R</text>
<text x="292.9" y="713.6" font-size="13.8" text-anchor="start" fill="#000" textLength="41.7" lengthAdjust="spacingAndGlyphs" >β-actin</text>
<rect x="340" y="652" width="139" height="39.5" fill="url(#g1)"/>
<g clip-path="url(#c1)"><ellipse cx="385" cy="682" rx="30" ry="9" fill="#c6c6c6" opacity="0.8" filter="url(#b4)"/><ellipse cx="455" cy="684" rx="22" ry="7" fill="#9c9c9c" opacity="0.7" filter="url(#b4)"/><g filter="url(#b1)"><rect x="359" y="666.8" width="43" height="2.8" fill="#7a7a7a" opacity="0.85"/><ellipse cx="365.5" cy="668.3" rx="5" ry="2.2" fill="#4c4c4c"/><ellipse cx="390.8" cy="668.3" rx="6" ry="2.4" fill="#363636"/></g><g filter="url(#b3)"><rect x="431.5" y="656.5" width="4" height="12.5" fill="#808080" opacity="0.6"/><rect x="436" y="664.6" width="21" height="2.6" fill="#5a5a5a" opacity="0.85"/><rect x="455.8" y="657.5" width="4.4" height="12" fill="#555"/><ellipse cx="458.5" cy="659.5" rx="2.6" ry="2.2" fill="#222"/><rect x="436" y="658" width="8" height="2.2" fill="#8a8a8a" opacity="0.6"/></g></g>
<rect x="340.25" y="652.25" width="138.3" height="38.8" rx="0.8" fill="none" stroke="#000" stroke-width="2.7"/>
<rect x="340" y="699" width="139" height="40.3" fill="url(#g2)"/>
<g clip-path="url(#c2)" filter="url(#b2)"><path d="M346.3 714.4 Q348 711 357 710.7 H395 Q403.6 711.2 404 714.8 Q403 718 393 718.2 H357 Q348 718 346.3 714.4Z" fill="#585858"/><path d="M415.4 711 H468 Q475 711 475 714.5 Q475 717.8 466 719.2 Q445 720.6 425 718.8 Q412 717.3 412 714.2 Q412 711 415.4 711Z" fill="#545454"/></g>
<rect x="340.25" y="699.25" width="138.3" height="39.8" rx="0.8" fill="none" stroke="#000" stroke-width="2.7"/>
<text x="88.7" y="813.8" font-size="17.5" text-anchor="middle" fill="#000" >G</text>
<line x1="92.7" y1="824.2" x2="92.7" y2="970.4" stroke="#000" stroke-width="1.8" stroke-linecap="butt"/>
<line x1="86.7" y1="969.6" x2="92.7" y2="969.6" stroke="#000" stroke-width="1.7" stroke-linecap="butt"/>
<text x="81.8" y="973" font-size="9.6" text-anchor="end" fill="#000" >0</text>
<line x1="86.7" y1="933.45" x2="92.7" y2="933.45" stroke="#000" stroke-width="1.7" stroke-linecap="butt"/>
<text x="81.8" y="936.85" font-size="9.6" text-anchor="end" fill="#000" >1</text>
<line x1="86.7" y1="897.3" x2="92.7" y2="897.3" stroke="#000" stroke-width="1.7" stroke-linecap="butt"/>
<text x="81.8" y="900.7" font-size="9.6" text-anchor="end" fill="#000" >2</text>
<line x1="86.7" y1="861.15" x2="92.7" y2="861.15" stroke="#000" stroke-width="1.7" stroke-linecap="butt"/>
<text x="81.8" y="864.55" font-size="9.6" text-anchor="end" fill="#000" >3</text>
<line x1="86.7" y1="825" x2="92.7" y2="825" stroke="#000" stroke-width="1.7" stroke-linecap="butt"/>
<text x="81.8" y="828.4" font-size="9.6" text-anchor="end" fill="#000" >4</text>
<text font-size="10" text-anchor="middle" fill="#000" textLength="112.3" lengthAdjust="spacingAndGlyphs" transform="translate(43.3,897.2) rotate(-90)" >mRNA expression/<tspan font-weight="normal">β</tspan>actin</text>
<text font-size="10" text-anchor="middle" fill="#000" textLength="62.3" lengthAdjust="spacingAndGlyphs" transform="translate(56,896.5) rotate(-90)" >(Fold change)</text>
<text x="4" y="980.5" font-size="9.8" text-anchor="start" fill="#000" textLength="52" lengthAdjust="spacingAndGlyphs" >OA (400uM)</text>
<text x="4" y="994.1" font-size="9.8" text-anchor="start" fill="#000" textLength="90" lengthAdjust="spacingAndGlyphs" >OA+Ex-4 (200nM/3h)</text>
<line x1="108.75" y1="931.4" x2="108.75" y2="934.5" stroke="#000" stroke-width="1.1" stroke-linecap="butt"/>
<line x1="104.85" y1="931.4" x2="112.65" y2="931.4" stroke="#000" stroke-width="1.1" stroke-linecap="butt"/>
<rect x="102.25" y="934.45" width="13" height="34.3" fill="#000" stroke="#000" stroke-width="1.9"/>
<text x="107.6" y="980.39" font-size="11.3" text-anchor="middle" fill="#000" >-</text>
<text x="107.6" y="993.39" font-size="11.3" text-anchor="middle" fill="#000" >-</text>
<line x1="126.35" y1="865.5" x2="126.35" y2="873" stroke="#000" stroke-width="1.1" stroke-linecap="butt"/>
<line x1="122.45" y1="865.5" x2="130.25" y2="865.5" stroke="#000" stroke-width="1.1" stroke-linecap="butt"/>
<rect x="119.75" y="872.95" width="13.2" height="95.8" fill="#fff" stroke="#000" stroke-width="1.9"/>
<text x="124.5" y="981.24" font-size="11.3" text-anchor="middle" fill="#000" >+</text>
<text x="124.5" y="993.39" font-size="11.3" text-anchor="middle" fill="#000" >-</text>
<line x1="144.4" y1="924.4" x2="144.4" y2="931.5" stroke="#000" stroke-width="1.1" stroke-linecap="butt"/>
<line x1="140.5" y1="924.4" x2="148.3" y2="924.4" stroke="#000" stroke-width="1.1" stroke-linecap="butt"/>
<rect x="137.55" y="931.45" width="13.7" height="37.3" fill="#6a6a6a" stroke="#000" stroke-width="1.9"/>
<text x="142.3" y="981.24" font-size="11.3" text-anchor="middle" fill="#000" >+</text>
<text x="142.3" y="994.24" font-size="11.3" text-anchor="middle" fill="#000" >+</text>
<line x1="169.7" y1="931.4" x2="169.7" y2="934.5" stroke="#000" stroke-width="1.1" stroke-linecap="butt"/>
<line x1="165.8" y1="931.4" x2="173.6" y2="931.4" stroke="#000" stroke-width="1.1" stroke-linecap="butt"/>
<rect x="162.85" y="934.45" width="13.7" height="34.3" fill="#000" stroke="#000" stroke-width="1.9"/>
<text x="169.2" y="980.39" font-size="11.3" text-anchor="middle" fill="#000" >-</text>
<text x="169.2" y="993.39" font-size="11.3" text-anchor="middle" fill="#000" >-</text>
<line x1="187.9" y1="880.6" x2="187.9" y2="884.8" stroke="#000" stroke-width="1.1" stroke-linecap="butt"/>
<line x1="184" y1="880.6" x2="191.8" y2="880.6" stroke="#000" stroke-width="1.1" stroke-linecap="butt"/>
<rect x="181.55" y="884.75" width="12.7" height="84" fill="#fff" stroke="#000" stroke-width="1.9"/>
<text x="184.9" y="981.24" font-size="11.3" text-anchor="middle" fill="#000" >+</text>
<text x="184.9" y="993.39" font-size="11.3" text-anchor="middle" fill="#000" >-</text>
<line x1="205.1" y1="889.2" x2="205.1" y2="892.8" stroke="#000" stroke-width="1.1" stroke-linecap="butt"/>
<line x1="201.2" y1="889.2" x2="209" y2="889.2" stroke="#000" stroke-width="1.1" stroke-linecap="butt"/>
<rect x="198.55" y="892.75" width="13.1" height="76" fill="#6a6a6a" stroke="#000" stroke-width="1.9"/>
<text x="199.9" y="981.24" font-size="11.3" text-anchor="middle" fill="#000" >+</text>
<text x="200.5" y="994.24" font-size="11.3" text-anchor="middle" fill="#000" >+</text>
<line x1="230.7" y1="931.4" x2="230.7" y2="934.5" stroke="#000" stroke-width="1.1" stroke-linecap="butt"/>
<line x1="226.8" y1="931.4" x2="234.6" y2="931.4" stroke="#000" stroke-width="1.1" stroke-linecap="butt"/>
<rect x="223.95" y="934.45" width="13.5" height="34.3" fill="#000" stroke="#000" stroke-width="1.9"/>
<text x="229.5" y="980.39" font-size="11.3" text-anchor="middle" fill="#000" >-</text>
<text x="229.5" y="993.39" font-size="11.3" text-anchor="middle" fill="#000" >-</text>
<line x1="248.3" y1="909.3" x2="248.3" y2="914.5" stroke="#000" stroke-width="1.1" stroke-linecap="butt"/>
<line x1="244.4" y1="909.3" x2="252.2" y2="909.3" stroke="#000" stroke-width="1.1" stroke-linecap="butt"/>
<rect x="241.95" y="914.45" width="12.7" height="54.3" fill="#fff" stroke="#000" stroke-width="1.9"/>
<text x="245.7" y="981.24" font-size="11.3" text-anchor="middle" fill="#000" >+</text>
<text x="245.7" y="993.39" font-size="11.3" text-anchor="middle" fill="#000" >-</text>
<line x1="266.85" y1="938" x2="266.85" y2="941" stroke="#000" stroke-width="1.1" stroke-linecap="butt"/>
<line x1="262.95" y1="938" x2="270.75" y2="938" stroke="#000" stroke-width="1.1" stroke-linecap="butt"/>
<rect x="260.25" y="940.95" width="13.2" height="27.8" fill="#6a6a6a" stroke="#000" stroke-width="1.9"/>
<text x="260.8" y="981.24" font-size="11.3" text-anchor="middle" fill="#000" >+</text>
<text x="261.9" y="994.24" font-size="11.3" text-anchor="middle" fill="#000" >+</text>
<line x1="291.65" y1="931.4" x2="291.65" y2="934.5" stroke="#000" stroke-width="1.1" stroke-linecap="butt"/>
<line x1="287.75" y1="931.4" x2="295.55" y2="931.4" stroke="#000" stroke-width="1.1" stroke-linecap="butt"/>
<rect x="285.05" y="934.45" width="13.2" height="34.3" fill="#000" stroke="#000" stroke-width="1.9"/>
<text x="290.1" y="980.39" font-size="11.3" text-anchor="middle" fill="#000" >-</text>
<text x="290.1" y="993.39" font-size="11.3" text-anchor="middle" fill="#000" >-</text>
<line x1="309.5" y1="896.2" x2="309.5" y2="905.9" stroke="#000" stroke-width="1.1" stroke-linecap="butt"/>
<line x1="305.6" y1="896.2" x2="313.4" y2="896.2" stroke="#000" stroke-width="1.1" stroke-linecap="butt"/>
<rect x="303.25" y="905.85" width="12.5" height="62.9" fill="#fff" stroke="#000" stroke-width="1.9"/>
<text x="309.7" y="981.24" font-size="11.3" text-anchor="middle" fill="#000" >+</text>
<text x="309.7" y="993.39" font-size="11.3" text-anchor="middle" fill="#000" >-</text>
<line x1="327.65" y1="937" x2="327.65" y2="939.5" stroke="#000" stroke-width="1.1" stroke-linecap="butt"/>
<line x1="323.75" y1="937" x2="331.55" y2="937" stroke="#000" stroke-width="1.1" stroke-linecap="butt"/>
<rect x="321.05" y="939.45" width="13.2" height="29.3" fill="#6a6a6a" stroke="#000" stroke-width="1.9"/>
<text x="327.4" y="981.24" font-size="11.3" text-anchor="middle" fill="#000" >+</text>
<text x="325.8" y="994.24" font-size="11.3" text-anchor="middle" fill="#000" >+</text>
<line x1="352.5" y1="930.2" x2="352.5" y2="934.5" stroke="#000" stroke-width="1.1" stroke-linecap="butt"/>
<line x1="348.6" y1="930.2" x2="356.4" y2="930.2" stroke="#000" stroke-width="1.1" stroke-linecap="butt"/>
<rect x="345.85" y="934.45" width="13.3" height="34.3" fill="#000" stroke="#000" stroke-width="1.9"/>
<text x="354" y="980.39" font-size="11.3" text-anchor="middle" fill="#000" >-</text>
<text x="355.4" y="993.39" font-size="11.3" text-anchor="middle" fill="#000" >-</text>
<line x1="370.35" y1="876.7" x2="370.35" y2="880.5" stroke="#000" stroke-width="1.1" stroke-linecap="butt"/>
<line x1="366.45" y1="876.7" x2="374.25" y2="876.7" stroke="#000" stroke-width="1.1" stroke-linecap="butt"/>
<rect x="364.15" y="880.45" width="12.4" height="88.3" fill="#fff" stroke="#000" stroke-width="1.9"/>
<text x="370.5" y="981.24" font-size="11.3" text-anchor="middle" fill="#000" >+</text>
<text x="370.5" y="993.39" font-size="11.3" text-anchor="middle" fill="#000" >-</text>
<line x1="388.35" y1="911.4" x2="388.35" y2="914.5" stroke="#000" stroke-width="1.1" stroke-linecap="butt"/>
<line x1="384.45" y1="911.4" x2="392.25" y2="911.4" stroke="#000" stroke-width="1.1" stroke-linecap="butt"/>
<rect x="381.85" y="914.45" width="13" height="54.3" fill="#6a6a6a" stroke="#000" stroke-width="1.9"/>
<text x="385.9" y="981.24" font-size="11.3" text-anchor="middle" fill="#000" >+</text>
<text x="386.7" y="994.24" font-size="11.3" text-anchor="middle" fill="#000" >+</text>
<line x1="104.4" y1="1000.9" x2="144.1" y2="1000.9" stroke="#000" stroke-width="1.9" stroke-linecap="butt"/>
<line x1="165" y1="1000.9" x2="205.2" y2="1000.9" stroke="#000" stroke-width="1.9" stroke-linecap="butt"/>
<line x1="225.3" y1="1000.1" x2="264.8" y2="1000.1" stroke="#000" stroke-width="1.9" stroke-linecap="butt"/>
<line x1="281.5" y1="999.6" x2="320.9" y2="999.6" stroke="#000" stroke-width="1.9" stroke-linecap="butt"/>
<line x1="343.6" y1="1000.1" x2="384.1" y2="1000.1" stroke="#000" stroke-width="1.9" stroke-linecap="butt"/>
<text x="110.4" y="1012.6" font-size="11.5" text-anchor="start" fill="#000" >PPAR<tspan font-family="Liberation Serif" font-weight="normal" font-size="11">γ</tspan></text>
<text x="184.3" y="1013.1" font-size="11.5" text-anchor="middle" fill="#000" textLength="20.3" lengthAdjust="spacingAndGlyphs" >FAS</text>
<text x="243" y="1012.6" font-size="11.5" text-anchor="middle" fill="#000" textLength="27.7" lengthAdjust="spacingAndGlyphs" >SCD1</text>
<text x="303.5" y="1011.3" font-size="11.5" text-anchor="middle" fill="#000" textLength="34.7" lengthAdjust="spacingAndGlyphs" >DGAT1</text>
<text x="364.5" y="1012.6" font-size="11.5" text-anchor="middle" fill="#000" textLength="35.5" lengthAdjust="spacingAndGlyphs" >DGAT2</text>
<line x1="104.4" y1="1020.2" x2="384.1" y2="1020.2" stroke="#000" stroke-width="1.9" stroke-linecap="butt"/>
<text x="248.5" y="1032.2" font-size="11.3" text-anchor="middle" fill="#000" textLength="128.7" lengthAdjust="spacingAndGlyphs" >Scrambled siRNA (20nM)</text>
<text x="124.8" y="835.1" font-size="8.1" text-anchor="middle" fill="#000" font-weight="normal" >ns</text>
<path d="M106.7 845.1V840.7H142.6V845.1" fill="none" stroke="#000" stroke-width="2" stroke-linejoin="miter"/>
<text x="114.6" y="857.21" font-size="14.3" text-anchor="middle" fill="#000" stroke="#000" stroke-width="0.35">**</text>
<text x="135.4" y="857.21" font-size="14.3" text-anchor="middle" fill="#000" stroke="#000" stroke-width="0.35">**</text>
<path d="M107.5 927V857.7H121.7V862.4" fill="none" stroke="#000" stroke-width="2" stroke-linejoin="miter"/>
<path d="M127.6 862.4V857.7H142.6V920.4" fill="none" stroke="#000" stroke-width="2" stroke-linejoin="miter"/>
<text x="184.1" y="857.21" font-size="14.3" text-anchor="middle" fill="#000" stroke="#000" stroke-width="0.35">**</text>
<path d="M167 865V859H202.3V865" fill="none" stroke="#000" stroke-width="2" stroke-linejoin="miter"/>
<text x="175.5" y="872.31" font-size="14.3" text-anchor="middle" fill="#000" stroke="#000" stroke-width="0.35">**</text>
<text x="194.5" y="868.5" font-size="8.1" text-anchor="middle" fill="#000" font-weight="normal" >ns</text>
<path d="M167.5 927V873.3H184.9V878" fill="none" stroke="#000" stroke-width="2" stroke-linejoin="miter"/>
<path d="M188.6 878V873.3H202.3V885.5" fill="none" stroke="#000" stroke-width="2" stroke-linejoin="miter"/>
<text x="246.2" y="880.6" font-size="8.1" text-anchor="middle" fill="#000" font-weight="normal" >ns</text>
<path d="M231 889.4V885.3H261.1V889.4" fill="none" stroke="#000" stroke-width="2" stroke-linejoin="miter"/>
<text x="239.2" y="901.41" font-size="14.3" text-anchor="middle" fill="#000" stroke="#000" stroke-width="0.35">***</text>
<text x="258.2" y="901.41" font-size="14.3" text-anchor="middle" fill="#000" stroke="#000" stroke-width="0.35">**</text>
<path d="M231 928.4V902.2H247.8V906.4" fill="none" stroke="#000" stroke-width="2" stroke-linejoin="miter"/>
<path d="M251.9 906.4V902.2H264.8V928.4" fill="none" stroke="#000" stroke-width="2" stroke-linejoin="miter"/>
<text x="308.9" y="868.7" font-size="8.1" text-anchor="middle" fill="#000" font-weight="normal" >ns</text>
<path d="M290.6 878V873.5H326.4V878" fill="none" stroke="#000" stroke-width="2" stroke-linejoin="miter"/>
<text x="298.7" y="888.21" font-size="14.3" text-anchor="middle" fill="#000" stroke="#000" stroke-width="0.35">**</text>
<text x="318" y="888.21" font-size="14.3" text-anchor="middle" fill="#000" stroke="#000" stroke-width="0.35">**</text>
<path d="M291.1 925.7V888.9H306.6V894.4" fill="none" stroke="#000" stroke-width="2" stroke-linejoin="miter"/>
<path d="M310.1 895.7V889.8H326.4V928.4" fill="none" stroke="#000" stroke-width="2" stroke-linejoin="miter"/>
<text x="369.2" y="848.8" font-size="8.1" text-anchor="middle" fill="#000" font-weight="normal" >ns</text>
<path d="M350.3 858.6V853.9H388.3V858.6" fill="none" stroke="#000" stroke-width="2" stroke-linejoin="miter"/>
<text x="358" y="868.61" font-size="14.3" text-anchor="middle" fill="#000" stroke="#000" stroke-width="0.35">**</text>
<text x="379.6" y="868.61" font-size="14.3" text-anchor="middle" fill="#000" stroke="#000" stroke-width="0.35">**</text>
<path d="M352.4 925.7V869.1H363.5V874.8" fill="none" stroke="#000" stroke-width="2" stroke-linejoin="miter"/>
<path d="M368.9 874.8V869.1H389.1V908.8" fill="none" stroke="#000" stroke-width="2" stroke-linejoin="miter"/>
<text x="491.7" y="819.8" font-size="17.5" text-anchor="middle" fill="#000" >H</text>
<line x1="491.4" y1="829" x2="491.4" y2="969.7" stroke="#000" stroke-width="1.7" stroke-linecap="butt"/>
<line x1="486.2" y1="969" x2="491.4" y2="969" stroke="#000" stroke-width="1.5" stroke-linecap="butt"/>
<text x="481.9" y="972.2" font-size="9" text-anchor="end" fill="#000" >0</text>
<line x1="486.2" y1="922.7" x2="491.4" y2="922.7" stroke="#000" stroke-width="1.5" stroke-linecap="butt"/>
<text x="481.9" y="925.9" font-size="9" text-anchor="end" fill="#000" >1</text>
<line x1="486.2" y1="876.4" x2="491.4" y2="876.4" stroke="#000" stroke-width="1.5" stroke-linecap="butt"/>
<text x="481.9" y="879.6" font-size="9" text-anchor="end" fill="#000" >2</text>
<line x1="486.2" y1="830.1" x2="491.4" y2="830.1" stroke="#000" stroke-width="1.5" stroke-linecap="butt"/>
<text x="481.9" y="833.3" font-size="9" text-anchor="end" fill="#000" >3</text>
<text font-size="9.4" text-anchor="middle" fill="#000" textLength="107" lengthAdjust="spacingAndGlyphs" transform="translate(453.2,887.8) rotate(-90)" >mRNA expression/<tspan font-weight="normal">β</tspan>actin</text>
<text font-size="9.4" text-anchor="middle" fill="#000" textLength="59.2" lengthAdjust="spacingAndGlyphs" transform="translate(463.1,887.3) rotate(-90)" >(Fold change)</text>
<text x="415.1" y="977.1" font-size="8.8" text-anchor="start" fill="#000" textLength="45.5" lengthAdjust="spacingAndGlyphs" >OA (400uM)</text>
<text x="415.1" y="990.2" font-size="8.8" text-anchor="start" fill="#000" textLength="80.2" lengthAdjust="spacingAndGlyphs" >OA+Ex-4 (200nM/3h)</text>
<line x1="506.1" y1="920.3" x2="506.1" y2="924" stroke="#333" stroke-width="1" stroke-linecap="butt"/>
<line x1="502.1" y1="920.3" x2="510.1" y2="920.3" stroke="#333" stroke-width="1" stroke-linecap="butt"/>
<rect x="500.05" y="923.85" width="12.1" height="44.1" fill="#000" stroke="#000" stroke-width="1.7"/>
<text x="505.2" y="976.98" font-size="10.5" text-anchor="middle" fill="#000" >-</text>
<text x="505.2" y="990.28" font-size="10.5" text-anchor="middle" fill="#000" >-</text>
<line x1="522.3" y1="846.7" x2="522.3" y2="854.7" stroke="#555" stroke-width="1" stroke-linecap="butt"/>
<line x1="518.3" y1="846.7" x2="526.3" y2="846.7" stroke="#555" stroke-width="1" stroke-linecap="butt"/>
<rect x="516.55" y="854.55" width="11.5" height="113.4" fill="#fff" stroke="#000" stroke-width="1.7"/>
<text x="519.3" y="977.77" font-size="10.5" text-anchor="middle" fill="#000" >+</text>
<text x="519.3" y="990.28" font-size="10.5" text-anchor="middle" fill="#000" >-</text>
<line x1="538.25" y1="848.5" x2="538.25" y2="856" stroke="#555" stroke-width="1" stroke-linecap="butt"/>
<line x1="534.25" y1="848.5" x2="542.25" y2="848.5" stroke="#555" stroke-width="1" stroke-linecap="butt"/>
<rect x="532.45" y="855.85" width="11.6" height="112.1" fill="#808080" stroke="#000" stroke-width="1.7"/>
<text x="535.8" y="977.77" font-size="10.5" text-anchor="middle" fill="#000" >+</text>
<text x="535.8" y="991.07" font-size="10.5" text-anchor="middle" fill="#000" >+</text>
<line x1="560.95" y1="920.3" x2="560.95" y2="924" stroke="#333" stroke-width="1" stroke-linecap="butt"/>
<line x1="556.95" y1="920.3" x2="564.95" y2="920.3" stroke="#333" stroke-width="1" stroke-linecap="butt"/>
<rect x="554.85" y="923.85" width="12.2" height="44.1" fill="#000" stroke="#000" stroke-width="1.7"/>
<text x="559.8" y="976.98" font-size="10.5" text-anchor="middle" fill="#000" >-</text>
<text x="559.8" y="990.28" font-size="10.5" text-anchor="middle" fill="#000" >-</text>
<line x1="577.25" y1="869.4" x2="577.25" y2="877.3" stroke="#555" stroke-width="1" stroke-linecap="butt"/>
<line x1="573.25" y1="869.4" x2="581.25" y2="869.4" stroke="#555" stroke-width="1" stroke-linecap="butt"/>
<rect x="571.35" y="877.15" width="11.8" height="90.8" fill="#fff" stroke="#000" stroke-width="1.7"/>
<text x="574.2" y="977.77" font-size="10.5" text-anchor="middle" fill="#000" >+</text>
<text x="574.2" y="990.28" font-size="10.5" text-anchor="middle" fill="#000" >-</text>
<line x1="593.2" y1="872" x2="593.2" y2="878.6" stroke="#555" stroke-width="1" stroke-linecap="butt"/>
<line x1="589.2" y1="872" x2="597.2" y2="872" stroke="#555" stroke-width="1" stroke-linecap="butt"/>
<rect x="587.35" y="878.45" width="11.7" height="89.5" fill="#808080" stroke="#000" stroke-width="1.7"/>
<text x="587.8" y="977.77" font-size="10.5" text-anchor="middle" fill="#000" >+</text>
<text x="588.4" y="991.07" font-size="10.5" text-anchor="middle" fill="#000" >+</text>
<line x1="615.6" y1="919.7" x2="615.6" y2="923.8" stroke="#333" stroke-width="1" stroke-linecap="butt"/>
<line x1="611.6" y1="919.7" x2="619.6" y2="919.7" stroke="#333" stroke-width="1" stroke-linecap="butt"/>
<rect x="609.95" y="923.65" width="11.3" height="44.3" fill="#000" stroke="#000" stroke-width="1.7"/>
<text x="611.2" y="976.98" font-size="10.5" text-anchor="middle" fill="#000" >-</text>
<text x="611.7" y="990.28" font-size="10.5" text-anchor="middle" fill="#000" >-</text>
<line x1="631.8" y1="866.7" x2="631.8" y2="874.2" stroke="#555" stroke-width="1" stroke-linecap="butt"/>
<line x1="627.8" y1="866.7" x2="635.8" y2="866.7" stroke="#555" stroke-width="1" stroke-linecap="butt"/>
<rect x="626.15" y="874.05" width="11.3" height="93.9" fill="#fff" stroke="#000" stroke-width="1.7"/>
<text x="628.7" y="977.77" font-size="10.5" text-anchor="middle" fill="#000" >+</text>
<text x="628.7" y="990.28" font-size="10.5" text-anchor="middle" fill="#000" >-</text>
<line x1="648" y1="877.4" x2="648" y2="882.3" stroke="#555" stroke-width="1" stroke-linecap="butt"/>
<line x1="644" y1="877.4" x2="652" y2="877.4" stroke="#555" stroke-width="1" stroke-linecap="butt"/>
<rect x="642.05" y="882.15" width="11.9" height="85.8" fill="#808080" stroke="#000" stroke-width="1.7"/>
<text x="642.5" y="977.77" font-size="10.5" text-anchor="middle" fill="#000" >+</text>
<text x="643" y="991.07" font-size="10.5" text-anchor="middle" fill="#000" >+</text>
<line x1="670.05" y1="920.2" x2="670.05" y2="924" stroke="#333" stroke-width="1" stroke-linecap="butt"/>
<line x1="666.05" y1="920.2" x2="674.05" y2="920.2" stroke="#333" stroke-width="1" stroke-linecap="butt"/>
<rect x="663.95" y="923.85" width="12.2" height="44.1" fill="#000" stroke="#000" stroke-width="1.7"/>
<text x="665.7" y="976.98" font-size="10.5" text-anchor="middle" fill="#000" >-</text>
<text x="666.5" y="990.28" font-size="10.5" text-anchor="middle" fill="#000" >-</text>
<line x1="686.4" y1="891.5" x2="686.4" y2="898.5" stroke="#555" stroke-width="1" stroke-linecap="butt"/>
<line x1="682.4" y1="891.5" x2="690.4" y2="891.5" stroke="#555" stroke-width="1" stroke-linecap="butt"/>
<rect x="680.45" y="898.35" width="11.9" height="69.6" fill="#fff" stroke="#000" stroke-width="1.7"/>
<text x="680.1" y="977.77" font-size="10.5" text-anchor="middle" fill="#000" >+</text>
<text x="680.9" y="990.28" font-size="10.5" text-anchor="middle" fill="#000" >-</text>
<line x1="702.8" y1="891.5" x2="702.8" y2="898.5" stroke="#555" stroke-width="1" stroke-linecap="butt"/>
<line x1="698.8" y1="891.5" x2="706.8" y2="891.5" stroke="#555" stroke-width="1" stroke-linecap="butt"/>
<rect x="696.85" y="898.35" width="11.9" height="69.6" fill="#808080" stroke="#000" stroke-width="1.7"/>
<text x="697.3" y="977.77" font-size="10.5" text-anchor="middle" fill="#000" >+</text>
<text x="697.9" y="991.07" font-size="10.5" text-anchor="middle" fill="#000" >+</text>
<line x1="725.5" y1="919.7" x2="725.5" y2="924" stroke="#333" stroke-width="1" stroke-linecap="butt"/>
<line x1="721.5" y1="919.7" x2="729.5" y2="919.7" stroke="#333" stroke-width="1" stroke-linecap="butt"/>
<rect x="719.55" y="923.85" width="11.9" height="44.1" fill="#000" stroke="#000" stroke-width="1.7"/>
<text x="718" y="976.98" font-size="10.5" text-anchor="middle" fill="#000" >-</text>
<text x="718.7" y="990.28" font-size="10.5" text-anchor="middle" fill="#000" >-</text>
<line x1="741.45" y1="874.5" x2="741.45" y2="886.2" stroke="#555" stroke-width="1" stroke-linecap="butt"/>
<line x1="737.45" y1="874.5" x2="745.45" y2="874.5" stroke="#555" stroke-width="1" stroke-linecap="butt"/>
<rect x="735.75" y="886.05" width="11.4" height="81.9" fill="#fff" stroke="#000" stroke-width="1.7"/>
<text x="734.9" y="977.77" font-size="10.5" text-anchor="middle" fill="#000" >+</text>
<text x="735.7" y="990.28" font-size="10.5" text-anchor="middle" fill="#000" >-</text>
<line x1="757.65" y1="890.4" x2="757.65" y2="896.6" stroke="#555" stroke-width="1" stroke-linecap="butt"/>
<line x1="753.65" y1="890.4" x2="761.65" y2="890.4" stroke="#555" stroke-width="1" stroke-linecap="butt"/>
<rect x="751.75" y="896.45" width="11.8" height="71.5" fill="#808080" stroke="#000" stroke-width="1.7"/>
<text x="751.4" y="977.77" font-size="10.5" text-anchor="middle" fill="#000" >+</text>
<text x="752.2" y="991.07" font-size="10.5" text-anchor="middle" fill="#000" >+</text>
<line x1="503.7" y1="998.7" x2="538.9" y2="998.7" stroke="#000" stroke-width="1.8" stroke-linecap="butt"/>
<line x1="556.7" y1="998.7" x2="591.5" y2="998.7" stroke="#000" stroke-width="1.8" stroke-linecap="butt"/>
<line x1="609.9" y1="998.7" x2="645.6" y2="998.7" stroke="#000" stroke-width="1.8" stroke-linecap="butt"/>
<line x1="667.3" y1="997.2" x2="702.6" y2="997.2" stroke="#000" stroke-width="1.8" stroke-linecap="butt"/>
<line x1="716.7" y1="998.2" x2="751.9" y2="998.2" stroke="#000" stroke-width="1.8" stroke-linecap="butt"/>
<text x="507.6" y="1010.5" font-size="10.2" text-anchor="start" fill="#000" ><tspan textLength="25.6" lengthAdjust="spacingAndGlyphs">PPRA</tspan><tspan font-family="Liberation Serif" font-weight="normal" font-size="9">γ</tspan></text>
<text x="574.7" y="1010.5" font-size="10.2" text-anchor="middle" fill="#000" textLength="17.8" lengthAdjust="spacingAndGlyphs" >FAS</text>
<text x="629.3" y="1011.3" font-size="10.2" text-anchor="middle" fill="#000" textLength="24.8" lengthAdjust="spacingAndGlyphs" >SCD1</text>
<text x="687.4" y="1011.3" font-size="10.2" text-anchor="middle" fill="#000" textLength="31.4" lengthAdjust="spacingAndGlyphs" >DGAT1</text>
<text x="735.3" y="1011.3" font-size="10.2" text-anchor="middle" fill="#000" textLength="33.2" lengthAdjust="spacingAndGlyphs" >DGAT2</text>
<line x1="503.7" y1="1015.7" x2="754" y2="1015.7" stroke="#000" stroke-width="1.8" stroke-linecap="butt"/>
<text x="632.8" y="1027.5" font-size="10.3" text-anchor="middle" fill="#000" textLength="101.3" lengthAdjust="spacingAndGlyphs" >GLP-1R siRNA (20nM)</text>
<text x="521.9" y="825.87" font-size="13" text-anchor="middle" fill="#000" stroke="#000" stroke-width="0.35">**</text>
<path d="M506.25 831.6V826.9H537.35V831.6" fill="none" stroke="#000" stroke-width="2.1" stroke-linejoin="miter"/>
<text x="512.8" y="840.37" font-size="13" text-anchor="middle" fill="#000" stroke="#000" stroke-width="0.35">**</text>
<text x="531.3" y="836" font-size="7.3" text-anchor="middle" fill="#000" font-weight="normal" >ns</text>
<path d="M505.45 917.7V841.5H520.35V845.9" fill="none" stroke="#000" stroke-width="2.1" stroke-linejoin="miter"/>
<path d="M525.05 844.8V841.5H537.35V847.2" fill="none" stroke="#000" stroke-width="2.1" stroke-linejoin="miter"/>
<text x="574.4" y="848.97" font-size="13" text-anchor="middle" fill="#000" stroke="#000" stroke-width="0.35">**</text>
<path d="M559.75 855.6V849.8H589.55V855.6" fill="none" stroke="#000" stroke-width="2.1" stroke-linejoin="miter"/>
<text x="565.8" y="861.97" font-size="13" text-anchor="middle" fill="#000" stroke="#000" stroke-width="0.35">**</text>
<text x="583.6" y="857.7" font-size="7.3" text-anchor="middle" fill="#000" font-weight="normal" >ns</text>
<path d="M559.75 917.7V863.4H574.45V868.6" fill="none" stroke="#000" stroke-width="2.1" stroke-linejoin="miter"/>
<path d="M577.85 868.6V863.2H589.55V869.5" fill="none" stroke="#000" stroke-width="2.1" stroke-linejoin="miter"/>
<text x="627.9" y="844.57" font-size="13" text-anchor="middle" fill="#000" stroke="#000" stroke-width="0.35">**</text>
<path d="M611.95 849.2V844.9H642.75V849.2" fill="none" stroke="#000" stroke-width="2.1" stroke-linejoin="miter"/>
<text x="619.5" y="858.97" font-size="13" text-anchor="middle" fill="#000" stroke="#000" stroke-width="0.35">**</text>
<text x="637" y="854.9" font-size="7.3" text-anchor="middle" fill="#000" font-weight="normal" >ns</text>
<path d="M611.95 914.4V860.1H627.65V864.8" fill="none" stroke="#000" stroke-width="2.1" stroke-linejoin="miter"/>
<path d="M631.05 864.8V860.1H642.75V872.7" fill="none" stroke="#000" stroke-width="2.1" stroke-linejoin="miter"/>
<text x="680.4" y="868.57" font-size="13" text-anchor="middle" fill="#000" stroke="#000" stroke-width="0.35">*</text>
<path d="M664.95 875.3V869.5H695.55V875.3" fill="none" stroke="#000" stroke-width="2.1" stroke-linejoin="miter"/>
<text x="671.7" y="882.17" font-size="13" text-anchor="middle" fill="#000" stroke="#000" stroke-width="0.35">*</text>
<text x="688.7" y="878.4" font-size="7.3" text-anchor="middle" fill="#000" font-weight="normal" >ns</text>
<path d="M664.95 917V883.9H679.05V887.8" fill="none" stroke="#000" stroke-width="2.1" stroke-linejoin="miter"/>
<path d="M682.75 887.8V883.9H695.55V887.8" fill="none" stroke="#000" stroke-width="2.1" stroke-linejoin="miter"/>
<text x="734.4" y="853.47" font-size="13" text-anchor="middle" fill="#000" stroke="#000" stroke-width="0.35">*</text>
<path d="M719.05 860.1V854.9H749.55V860.1" fill="none" stroke="#000" stroke-width="2.1" stroke-linejoin="miter"/>
<text x="725.3" y="866.87" font-size="13" text-anchor="middle" fill="#000" stroke="#000" stroke-width="0.35">**</text>
<text x="743.5" y="862.2" font-size="7.3" text-anchor="middle" fill="#000" font-weight="normal" >ns</text>
<path d="M719.75 917V868H733.35V872.7" fill="none" stroke="#000" stroke-width="2.1" stroke-linejoin="miter"/>
<path d="M737.25 872.7V868H749.55V883.9" fill="none" stroke="#000" stroke-width="2.1" stroke-linejoin="miter"/>
</svg>
</body></html>
